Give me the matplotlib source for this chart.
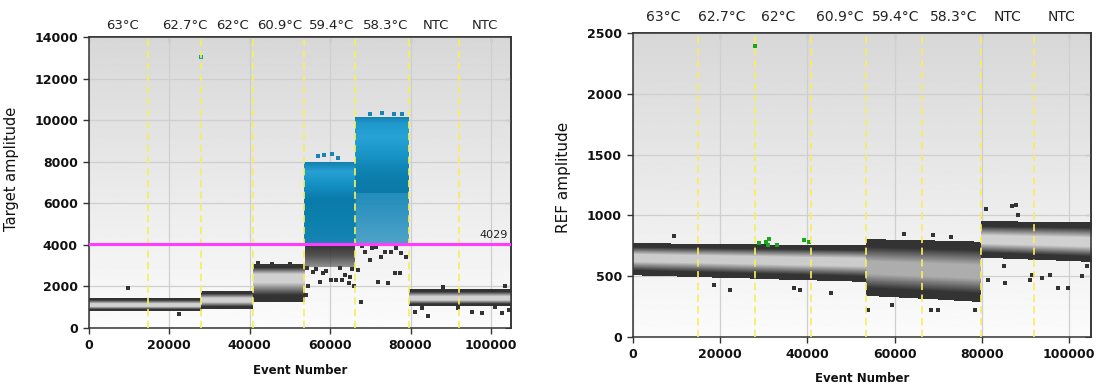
import numpy as np
import matplotlib.pyplot as plt
from matplotlib.colors import to_rgb

# well boundaries (yellow dashed lines) in event number
well_edges = [14800, 27900, 40800, 53500, 66300, 79700, 92000]
well_names = ["63°C", "62.7°C", "62°C", "60.9°C", "59.4°C", "58.3°C", "NTC", "NTC"]
tgt_label_x = [8400, 23750, 35750, 47500, 60250, 73750, 86250, 98500]
ref_label_x = [6900, 20450, 33300, 47500, 60300, 73600, 85800, 98200]

# Target channel: negative droplet bands
tgt_neg_x0 = [0, 27900, 40800, 79700]
tgt_neg_x1 = [27900, 40800, 53500, 105000]
tgt_neg_lo = [820, 900, 1250, 1080]
tgt_neg_hi = [1440, 1720, 3050, 1880]

# Target channel: positive droplet clusters
tgt_pos_x0 = [53500, 66300]
tgt_pos_x1 = [66300, 79700]
tgt_pos_lo = [4090, 4090]
tgt_pos_hi = [7950, 10150]
tgt_pos_dense = [4090, 6500]
threshold = 4029

# rain below the threshold (59.4°C well)
rain_x = [53700, 66100]
rain_y = [2950, 4029]

tgt_dot_x = [9750, 22300, 42000, 45500, 50000, 54400, 55700, 58200, 60250, 61500, 63600,
             64800, 65000, 66900, 67750, 68600, 69800, 71500, 71900, 72750, 73600, 74400,
             75250, 76100, 76500, 77300, 77750, 79000, 81100, 82750, 84400, 88000, 91900,
             95250, 97750, 101000, 102750, 103500, 104400,
             54200, 56500, 59000, 62500, 65500, 54000, 57500, 63000, 66000, 68000, 70500]
tgt_dot_y = [1900, 690, 3150, 3100, 3080, 2000, 2710, 2630, 2310, 2310, 2550,
             2150, 2470, 2790, 1270, 3670, 3270, 3910, 2230, 3430, 3670, 2180,
             3670, 2630, 3830, 2630, 3590, 3430, 785, 945, 577, 1950, 945,
             785, 705, 1025, 705, 2000, 865,
             2900, 2850, 2750, 2900, 2850, 1600, 2200, 2300, 2000, 3950, 3850]
tgt_blue_x = [27900, 57000, 58500, 60500, 62000, 70000, 73000, 76000, 78000]
tgt_blue_y = [13050, 8250, 8300, 8350, 8200, 10300, 10350, 10300, 10280]

# REF channel bands (start / end of each segment)
ref_x0 = [0, 53500, 79700]
ref_x1 = [53500, 79700, 105000]
ref_lo0 = [510, 340, 650]
ref_lo1 = [455, 290, 615]
ref_hi0 = [775, 800, 950]
ref_hi1 = [755, 780, 940]

ref_dot_x = [9500, 18600, 22300, 36900, 38300, 45300, 53800, 59300, 62200, 68300, 68700,
             70000, 73000, 78500, 80900, 81500, 85000, 85400, 87000, 87800, 88300, 91000,
             91500, 93700, 95600, 97500, 99700, 102900, 104000]
ref_dot_y = [830, 425, 385, 400, 384, 362, 219, 266, 847, 219, 842,
             225, 822, 219, 1053, 466, 581, 444, 1075, 1088, 1006, 471,
             512, 485, 512, 403, 403, 499, 581]
ref_green_x = [27900, 28800, 30500, 31300, 31000, 33000, 39100, 40400]
ref_green_y = [2396, 773, 778, 806, 759, 760, 795, 778]


def background(ax, xmax, ymax):
    g = np.linspace(0.985, 0.845, 200)[:, None] * np.ones((1, 2))
    ax.imshow(g, extent=(0, xmax, 0, ymax), origin='lower', aspect='auto',
              cmap='gray', vmin=0, vmax=1, zorder=0)


def band(ax, x0, x1, lo0, hi0, lo1, hi1, dark=0.2, light=0.82, mid=0.5):
    nx, ny = 80, 300
    ymin, ymax = min(lo0, lo1), max(hi0, hi1)
    t = np.linspace(0, 1, nx)[None, :]
    lo = lo0 + (lo1 - lo0) * t
    hi = hi0 + (hi1 - hi0) * t
    yy = np.linspace(ymin, ymax, ny)[:, None]
    u = (yy - lo) / (hi - lo)
    d = np.where(u < mid, u / mid, (1 - u) / (1 - mid))
    k = np.clip((d - 0.28) / 0.5, 0, 1)
    gray = dark + (light - dark) * k
    img = np.zeros((ny, nx, 4))
    img[..., 0] = img[..., 1] = img[..., 2] = gray
    img[..., 3] = ((u >= 0) & (u <= 1)).astype(float)
    ax.imshow(img, extent=(x0, x1, ymin, ymax), origin='lower', aspect='auto',
              interpolation='nearest', zorder=2)


def vgrad(ax, x0, x1, y0, y1, stops, alpha=1.0, z=3):
    ny = 200
    f = np.linspace(0, 1, ny)
    pos = [s[0] for s in stops]
    cols = np.array([to_rgb(s[1]) for s in stops])
    img = np.ones((ny, 2, 4))
    for c in range(3):
        img[:, :, c] = np.interp(f, pos, cols[:, c])[:, None]
    img[:, :, 3] = np.interp(f, pos, [s[2] if len(s) > 2 else alpha for s in stops])[:, None]
    ax.imshow(img, extent=(x0, x1, y0, y1), origin='lower', aspect='auto', zorder=z)


def style(ax, xmax, ymax, ystep, ylabel, ylab_xy, xlab_xy, label_x, label_y, lab_fs, ylab_fs):
    ax.set_xlim(0, xmax)
    ax.set_ylim(0, ymax)
    xt = np.arange(0, 100001, 20000)
    yt = np.arange(0, ymax + 1, ystep)
    ax.set_xticks(xt)
    ax.set_yticks(yt)
    ax.grid(True, color='#cfcfcf', lw=0.9)
    ax.set_axisbelow(True)
    ax.tick_params(direction='out', length=4, width=1, color='#333', pad=4)
    for lab in ax.get_xticklabels() + ax.get_yticklabels():
        lab.set_fontweight('bold')
        lab.set_fontsize(9)
        lab.set_color('#111')
    sy = ax.secondary_yaxis('right')
    sy.set_yticks(yt)
    sy.tick_params(direction='in', length=4, labelright=False, color='#333')
    sx = ax.secondary_xaxis('top')
    sx.set_xticks(xt)
    sx.tick_params(direction='in', length=4, labeltop=False, color='#333')
    for sp in list(ax.spines.values()) + [sy.spines['right'], sx.spines['top']]:
        sp.set_color('#333')
        sp.set_linewidth(1.1)
    ax.set_ylabel(ylabel, fontsize=ylab_fs, color='#111')
    ax.yaxis.set_label_coords(*ylab_xy)
    ax.set_xlabel("Event Number", fontsize=8.5, fontweight='bold', color='#111')
    ax.xaxis.set_label_coords(*xlab_xy)
    for x in well_edges:
        ax.axvline(x, color='#f4f05a', lw=1.3, ls=(0, (4, 2.5)), zorder=7, alpha=0.95)
    tr = ax.get_xaxis_transform()
    for x, name in zip(label_x, well_names):
        ax.text(x, label_y, name, transform=tr, ha='center', va='center',
                fontsize=lab_fs, color='#222', clip_on=False)


fig = plt.figure(figsize=(10.97, 3.86), dpi=100)
ax1 = fig.add_axes([0.0811, 0.1503, 0.3847, 0.7539])
ax2 = fig.add_axes([0.5770, 0.1269, 0.4175, 0.7876])

# ---- Target amplitude panel ----
background(ax1, 105000, 14000)
mids = [0.45, 0.5, 0.66, 0.45]
for x0, x1, lo, hi, m in zip(tgt_neg_x0, tgt_neg_x1, tgt_neg_lo, tgt_neg_hi, mids):
    band(ax1, x0, x1, lo, hi, lo, hi, mid=m)

# rain under threshold
vgrad(ax1, rain_x[0], rain_x[1], rain_y[0], rain_y[1],
      [(0, '#2e2e2e', 0.5), (0.5, '#2e2e2e', 0.82), (1, '#2e2e2e', 0.97)])

blue_stops = [
    [(0, '#1784b4'), (0.25, '#0d80ae'), (0.55, '#0a7cab'), (0.72, '#1590c3'),
     (0.88, '#27a1d3'), (1, '#157fb0')],
    [(0, '#0b7aa8'), (0.25, '#0d80ae'), (0.5, '#1894c6'), (0.75, '#28a3d5'),
     (0.92, '#1f98cb'), (1, '#1682b5')],
]
for x0, x1, lo, hi, dense, st in zip(tgt_pos_x0, tgt_pos_x1, tgt_pos_lo, tgt_pos_hi,
                                     tgt_pos_dense, blue_stops):
    if dense > lo:
        vgrad(ax1, x0, x1, lo, dense, [(0, '#1688bb', 0.75), (1, '#0f84b6', 0.92)])
    vgrad(ax1, x0, x1, dense, hi, st)

ax1.scatter(tgt_dot_x, tgt_dot_y, s=7, marker='s', color='#333333', lw=0, zorder=4)
ax1.scatter(tgt_blue_x, tgt_blue_y, s=7, marker='s', color='#1485b5', lw=0, zorder=4)
ax1.scatter(tgt_blue_x[:1], tgt_blue_y[:1], s=9, marker='s', color='#12a08a', lw=0, zorder=4)

ax1.axhline(threshold, color='#ff3cff', lw=2.2, zorder=8)
ax1.text(104300, threshold + 180, str(threshold), ha='right', va='bottom', fontsize=8,
         color='#222', zorder=9)
style(ax1, 105000, 14000, 2000, "Target amplitude", (-0.166, 0.546), (0.5, -0.124),
      tgt_label_x, 1.041, 9.5, 10.5)

# ---- REF amplitude panel ----
background(ax2, 105000, 2500)
ref_mid = [0.55, 0.5, 0.5]
ref_light = [0.8, 0.68, 0.82]
for i in range(len(ref_x0)):
    band(ax2, ref_x0[i], ref_x1[i], ref_lo0[i], ref_hi0[i], ref_lo1[i], ref_hi1[i],
         light=ref_light[i], mid=ref_mid[i])
ax2.scatter(ref_dot_x, ref_dot_y, s=7, marker='s', color='#333333', lw=0, zorder=4)
ax2.scatter(ref_green_x, ref_green_y, s=9, marker='s', color='#1aa61a', lw=0, zorder=5)
style(ax2, 105000, 2500, 500, "REF amplitude", (-0.135, 0.526), (0.5, -0.115),
      ref_label_x, 1.053, 10, 11)

fig.savefig("out.png", dpi=100)
